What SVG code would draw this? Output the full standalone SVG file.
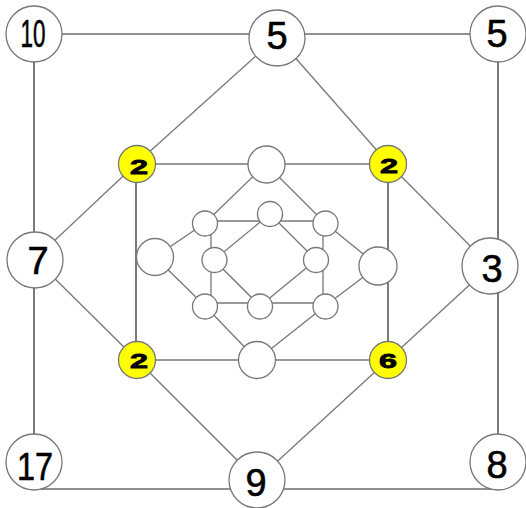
<svg xmlns="http://www.w3.org/2000/svg" width="526" height="508" viewBox="0 0 526 508">
<style>
.n{fill:#fff;stroke:#777;stroke-width:1.3}
.y{fill:#ffff00;stroke:#777;stroke-width:1.3}
.t{font-family:"Liberation Sans",Arial,sans-serif;font-size:38px;fill:#000;stroke:#000;stroke-width:0.6;text-anchor:middle}
.s{font-family:"Liberation Sans",Arial,sans-serif;font-size:20px;font-weight:bold;fill:#000;stroke:#000;stroke-width:0.8;text-anchor:middle}
.d{stroke:#222;stroke-width:1.2;fill:none}
.g{stroke:#777;stroke-width:1.3;fill:none}
</style>
<rect width="526" height="508" fill="#fff"/>
<g id="connectors">
<line class="d" x1="34" y1="34" x2="498" y2="34"/>
<line class="d" x1="498" y1="34" x2="498" y2="489"/>
<line class="d" x1="34" y1="489" x2="498" y2="489"/>
<line class="d" x1="34" y1="34" x2="34" y2="489"/>
<line class="g" x1="277" y1="37" x2="137" y2="163"/>
<line class="g" x1="277" y1="37" x2="388" y2="163"/>
<line class="g" x1="35" y1="259" x2="137" y2="163"/>
<line class="g" x1="35" y1="259" x2="137" y2="360"/>
<line class="g" x1="257" y1="480" x2="137" y2="360"/>
<line class="g" x1="257" y1="480" x2="388" y2="360"/>
<line class="g" x1="490" y1="266" x2="388" y2="163"/>
<line class="g" x1="490" y1="266" x2="388" y2="360"/>
<line class="g" x1="137" y1="164" x2="388" y2="164"/>
<line class="d" x1="388" y1="164" x2="388" y2="360"/>
<line class="g" x1="137" y1="360" x2="388" y2="360"/>
<line class="d" x1="136" y1="164" x2="136" y2="360"/>
<line class="g" x1="266" y1="164" x2="205" y2="223"/>
<line class="g" x1="205" y1="223" x2="155" y2="257"/>
<line class="g" x1="266" y1="164" x2="325" y2="223"/>
<line class="g" x1="325" y1="223" x2="378" y2="266"/>
<line class="g" x1="155" y1="257" x2="205" y2="306"/>
<line class="g" x1="205" y1="306" x2="257" y2="360"/>
<line class="g" x1="378" y1="266" x2="325" y2="306"/>
<line class="g" x1="325" y1="306" x2="257" y2="360"/>
<line class="g" x1="211" y1="221" x2="323" y2="221"/>
<line class="g" x1="323" y1="221" x2="323" y2="303"/>
<line class="g" x1="211" y1="303" x2="323" y2="303"/>
<line class="g" x1="211" y1="221" x2="211" y2="303"/>
<line class="g" x1="270" y1="214" x2="316" y2="260"/>
<line class="g" x1="316" y1="260" x2="260" y2="306"/>
<line class="g" x1="260" y1="306" x2="214" y2="260"/>
<line class="g" x1="214" y1="260" x2="270" y2="214"/>
</g>
<g id="n10"><circle class="n" cx="34" cy="34" r="28"/><text class="t" x="33" y="47" textLength="25" lengthAdjust="spacingAndGlyphs">10</text></g>
<g id="n5top"><circle class="n" cx="277" cy="38" r="28"/><text class="t" x="277" y="49">5</text></g>
<g id="n5right"><circle class="n" cx="498" cy="34" r="28"/><text class="t" x="497" y="47">5</text></g>
<g id="n7"><circle class="n" cx="35" cy="260" r="28"/><text class="t" x="38" y="274">7</text></g>
<g id="n3"><circle class="n" cx="490" cy="266" r="28"/><text class="t" x="492" y="282">3</text></g>
<g id="n17"><circle class="n" cx="34" cy="462" r="28"/><text class="t" x="35" y="480" textLength="36" lengthAdjust="spacingAndGlyphs">17</text></g>
<g id="n8"><circle class="n" cx="498" cy="462" r="28"/><text class="t" x="497" y="478">8</text></g>
<g id="n9"><circle class="n" cx="257" cy="480" r="28"/><text class="t" x="256" y="496">9</text></g>
<g id="y2tl"><circle class="y" cx="137" cy="164" r="18.5"/><text class="s" x="139" y="174" textLength="18" lengthAdjust="spacingAndGlyphs">2</text></g>
<g id="y2tr"><circle class="y" cx="388" cy="164" r="18.5"/><text class="s" x="389" y="173" textLength="18" lengthAdjust="spacingAndGlyphs">2</text></g>
<g id="y2bl"><circle class="y" cx="137" cy="360" r="18.5"/><text class="s" x="139" y="368" textLength="18" lengthAdjust="spacingAndGlyphs">2</text></g>
<g id="y6"><circle class="y" cx="388" cy="360" r="18.5"/><text class="s" x="388" y="368" textLength="18" lengthAdjust="spacingAndGlyphs">6</text></g>
<g id="mtop"><circle class="n" cx="266.5" cy="164.5" r="18.5"/></g>
<g id="mleft"><circle class="n" cx="155" cy="257" r="18.5"/></g>
<g id="mright"><circle class="n" cx="378" cy="266" r="19"/></g>
<g id="mbot"><circle class="n" cx="257" cy="360" r="18.5"/></g>
<g id="sTL"><circle class="n" cx="205" cy="223.5" r="12.5"/></g>
<g id="sT"><circle class="n" cx="270" cy="214" r="12.5"/></g>
<g id="sTR"><circle class="n" cx="325.5" cy="223.5" r="12.5"/></g>
<g id="sL"><circle class="n" cx="214.5" cy="260" r="12.5"/></g>
<g id="sR"><circle class="n" cx="316" cy="260" r="12.5"/></g>
<g id="sBL"><circle class="n" cx="205" cy="306.5" r="12.5"/></g>
<g id="sB"><circle class="n" cx="260" cy="306.5" r="12.5"/></g>
<g id="sBR"><circle class="n" cx="325.5" cy="306.5" r="12.5"/></g>
</svg>
